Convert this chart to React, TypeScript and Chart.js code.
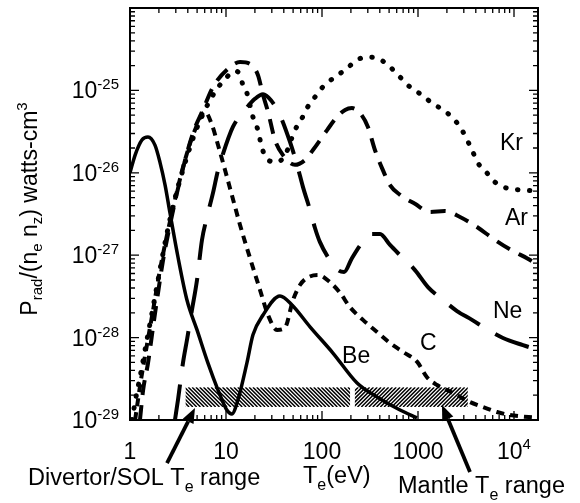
import React, { useEffect, useRef } from "react";
import { Chart, registerables } from "chart.js";
Chart.register(...registerables);

// ---- axis ranges ----
const teMin = 1;
const teMax = 17783;
const pMin = 1e-29;
const pMax = 1e-24;

// ---- tick labels ----
const xTickValues = [1, 10, 100, 1000, 10000];
const xTickMain = ["1", "10", "100", "1000", "10"];
const xTickSup = ["", "", "", "", "4"];
const yTickValues = [1e-29, 1e-28, 1e-27, 1e-26, 1e-25];
const yTickSup = ["-29", "-28", "-27", "-26", "-25"];

// ---- series (Te in eV, P in W cm^3) ----
const beTe = [1.0, 1.13, 1.33, 1.54, 1.82, 2.05, 2.32, 2.61, 3.16, 3.92, 4.99, 6.49, 8.26, 10.2, 11.5, 13.3, 16.5, 19.1, 24.3, 36.5, 48.7, 75, 130, 232, 374, 650, 977];
const beP = [1.0e-26, 1.64e-26, 2.5e-26, 2.72e-26, 2.17e-26, 1.35e-26, 7.1e-27, 3.25e-27, 9.5e-28, 2.86e-28, 1.24e-28, 4.9e-29, 2.31e-29, 1.32e-29, 1.18e-29, 1.75e-29, 4.9e-29, 1.08e-28, 1.88e-28, 3.2e-28, 2.49e-28, 1.35e-28, 6.5e-29, 2.81e-29, 1.9e-29, 1.32e-29, 1.06e-29];

const cTe = [1.13, 1.30, 1.50, 1.74, 2.05, 2.43, 2.94, 3.74, 4.75, 6.04, 7.15, 8.26, 9.77, 11.5, 14.0, 17.8, 22.6, 27.4, 34, 41, 49.9, 59, 69.8, 90.8, 121, 154, 195, 267, 374, 511, 698, 977, 1240, 1578, 2005, 2547, 3480, 4753, 6650, 9080, 17800];
const cP = [1.0e-29, 3.05e-29, 8.1e-29, 2.16e-28, 6.6e-28, 1.76e-27, 4.7e-27, 1.43e-26, 3.3e-26, 5.5e-26, 3.8e-26, 2.17e-26, 1.08e-26, 5.4e-27, 2.33e-27, 9.2e-28, 3.8e-28, 1.88e-28, 1.24e-28, 1.31e-28, 2.86e-28, 4.35e-28, 5.3e-28, 5.75e-28, 4.7e-28, 3.5e-28, 2.35e-28, 1.64e-28, 1.17e-28, 8.6e-29, 6.7e-29, 5.1e-29, 3.3e-29, 2.66e-29, 2.31e-29, 2.0e-29, 1.65e-29, 1.44e-29, 1.25e-29, 1.15e-29, 1.06e-29];

const neTe = [2.94, 3.16, 3.56, 3.92, 4.42, 4.99, 5.62, 6.34, 7.32, 8.26, 9.08, 11.8, 15.8, 20.0, 24.3, 29.4, 36.5, 46.4, 55, 63.4, 75, 84.5, 95, 121, 147, 170, 205, 261, 332, 402, 511, 650, 930, 1270, 1820, 2547, 3650, 5360, 7680, 12400, 17800];
const neP = [1e-29, 1.75e-29, 4.9e-29, 9.35e-29, 2.16e-28, 5.0e-28, 1.53e-27, 2.91e-27, 5.7e-27, 1.08e-26, 1.56e-26, 3.6e-26, 5.8e-26, 7.9e-26, 9.0e-26, 7.6e-26, 5.0e-26, 2.37e-26, 1.25e-26, 6.7e-27, 3.54e-27, 2.14e-27, 1.45e-27, 8.7e-28, 6.6e-28, 6.25e-28, 9.2e-28, 1.41e-27, 1.81e-27, 1.81e-27, 1.33e-27, 1.0e-27, 6.6e-28, 4.1e-28, 2.86e-28, 2.1e-28, 1.64e-28, 1.24e-28, 9.9e-29, 8.1e-29, 7.1e-29];

const arTe = [1.27, 1.37, 1.54, 1.74, 1.91, 2.21, 2.61, 3.32, 4.53, 5.75, 7.32, 11.0, 14.0, 17.8, 21.5, 24.3, 27.4, 32.4, 39.2, 52.3, 66.5, 80.5, 113, 143, 174, 205, 249, 301, 356, 422, 511, 650, 930, 1333, 1908, 2738, 4120, 6340, 9770, 13650, 17800];
const arP = [1e-29, 2.31e-29, 4.9e-29, 1.35e-28, 2.86e-28, 8.7e-28, 2.33e-27, 8.2e-27, 3.04e-26, 5.8e-26, 1.1e-25, 1.92e-25, 2.21e-25, 2.09e-25, 1.54e-25, 8.8e-26, 5.5e-26, 2.5e-26, 1.64e-26, 1.25e-26, 1.43e-26, 1.89e-26, 3.3e-26, 4.75e-26, 5.8e-26, 6.1e-26, 5.3e-26, 3.6e-26, 1.89e-26, 1.14e-26, 7.1e-27, 5.4e-27, 4.2e-27, 3.34e-27, 3.43e-27, 2.91e-27, 2.2e-27, 1.53e-27, 1.12e-27, 9.2e-28, 7.6e-28];

const krTe = [1.05, 1.155, 1.27, 1.50, 1.74, 2.05, 2.43, 2.94, 3.74, 4.75, 6.04, 7.68, 9.77, 12.4, 14.0, 15.0, 16.5, 19.1, 21.5, 23.7, 27.4, 34, 41.2, 52.3, 61.9, 69.8, 84.5, 102, 137, 174, 232, 294, 374, 487, 619, 826, 1100, 1400, 1820, 2315, 2870, 3650, 4220, 5230, 6340, 8450, 11550, 17800];
const krP = [1e-29, 1.9e-29, 3.3e-29, 9.35e-29, 2.35e-28, 6.6e-28, 1.86e-27, 4.9e-27, 1.31e-26, 3.04e-26, 5.8e-26, 9.6e-26, 1.37e-25, 1.72e-25, 1.54e-25, 1.16e-25, 9.3e-26, 4.75e-26, 3.3e-26, 2.0e-26, 1.43e-26, 1.35e-26, 1.64e-26, 3.3e-26, 4.6e-26, 6.1e-26, 8.3e-26, 1.1e-25, 1.46e-25, 1.77e-25, 2.34e-25, 2.54e-25, 2.47e-25, 2.03e-25, 1.54e-25, 1.1e-25, 8.8e-26, 7.0e-26, 5.8e-26, 4.6e-26, 3.3e-26, 1.89e-26, 1.31e-26, 9.95e-27, 7.7e-27, 6.5e-27, 6.2e-27, 6.0e-27];

// ---- species labels (anchored in data coordinates, left/baseline) ----
const speciesNames = ["Kr", "Ar", "Ne", "C", "Be"];
const speciesTe = [7150, 8060, 6040, 1050, 162];
const speciesP = [1.89e-26, 2.33e-27, 1.73e-28, 7.1e-29, 4.9e-29];

// ---- Te ranges (hatched bars) ----
const rangeTeLow = [3.8, 220];
const rangeTeHigh = [196, 3300];
const rangePLow = [1.44e-29, 1.44e-29];
const rangePHigh = [2.5e-29, 2.5e-29];
const rangeHatch = ["back", "fwd"];

// ---- arrows (tail -> tip), data coordinates ----
const arrowTailTe = [2.43, 3480];
const arrowTailP = [3.0e-30, 2.34e-30];
const arrowTipTe = [4.75, 1778];
const arrowTipP = [1.4e-29, 1.52e-29];

const FONT = '"Liberation Sans", Arial, Helvetica, sans-serif';
type Part = { t: string; s: number; dy: number };

function partsWidth(ctx: CanvasRenderingContext2D, parts: Part[]) {
  let w = 0;
  for (const p of parts) {
    ctx.font = `${p.s}px ${FONT}`;
    w += ctx.measureText(p.t).width;
  }
  return w;
}
function drawParts(ctx: CanvasRenderingContext2D, parts: Part[], x: number, y: number, align: string) {
  const w = partsWidth(ctx, parts);
  let cx = align === "left" ? x : align === "center" ? x - w / 2 : x - w;
  ctx.textAlign = "left";
  ctx.textBaseline = "alphabetic";
  for (const p of parts) {
    ctx.font = `${p.s}px ${FONT}`;
    ctx.fillText(p.t, cx, y + p.dy);
    cx += ctx.measureText(p.t).width;
  }
}

const pts = (xs: number[], ys: number[]) => xs.map((x, i) => ({ x, y: ys[i] }));

const decorPlugin = {
  id: "decor",
  beforeDatasetsDraw(chart: any) {
    const { ctx } = chart;
    const xs = chart.scales.x;
    const ys = chart.scales.y;
    ctx.save();
    for (let i = 0; i < rangeTeLow.length; i++) {
      const x0 = xs.getPixelForValue(rangeTeLow[i]);
      const x1 = xs.getPixelForValue(rangeTeHigh[i]);
      const yb = ys.getPixelForValue(rangePLow[i]);
      const yt = ys.getPixelForValue(rangePHigh[i]);
      const h = yb - yt;
      ctx.save();
      ctx.beginPath();
      ctx.rect(x0, yt, x1 - x0, h);
      ctx.clip();
      ctx.strokeStyle = "#000";
      ctx.lineWidth = 1.5;
      ctx.beginPath();
      for (let s = x0 - h - 8; s < x1 + h + 8; s += 3.8) {
        if (rangeHatch[i] === "back") {
          ctx.moveTo(s, yt);
          ctx.lineTo(s + h, yb);
        } else {
          ctx.moveTo(s, yb);
          ctx.lineTo(s + h, yt);
        }
      }
      ctx.stroke();
      ctx.restore();
    }
    ctx.restore();
  },
  afterDatasetsDraw(chart: any) {
    const { ctx, chartArea } = chart;
    const { left, right, top, bottom } = chartArea;
    const xs = chart.scales.x;
    const ys = chart.scales.y;
    ctx.save();
    ctx.strokeStyle = "#000";
    ctx.fillStyle = "#000";
    // frame
    ctx.lineWidth = 2;
    ctx.strokeRect(left, top, right - left, bottom - top);
    // ticks
    ctx.lineWidth = 1.3;
    ctx.beginPath();
    for (let e = 0; e <= 4; e++) {
      for (let k = 1; k <= 9; k++) {
        const v = k * Math.pow(10, e);
        if (v < teMin || v > teMax) continue;
        const px = xs.getPixelForValue(v);
        const len = k === 1 ? 9 : 5;
        ctx.moveTo(px, bottom);
        ctx.lineTo(px, bottom - len);
        ctx.moveTo(px, top);
        ctx.lineTo(px, top + len);
      }
    }
    for (let e = -29; e <= -24; e++) {
      for (let k = 1; k <= 9; k++) {
        const v = k * Math.pow(10, e);
        if (v < pMin * 0.999 || v > pMax * 1.001) continue;
        const py = ys.getPixelForValue(v);
        const len = k === 1 ? 9 : 5;
        ctx.moveTo(left, py);
        ctx.lineTo(left + len, py);
        ctx.moveTo(right, py);
        ctx.lineTo(right - len, py);
      }
    }
    ctx.stroke();

    // x tick labels
    for (let i = 0; i < xTickValues.length; i++) {
      const px = xs.getPixelForValue(xTickValues[i]);
      const parts: Part[] = [{ t: xTickMain[i], s: 23, dy: 0 }];
      if (xTickSup[i]) parts.push({ t: xTickSup[i], s: 15, dy: -10 });
      drawParts(ctx, parts, px, 459, "center");
    }
    // y tick labels
    for (let i = 0; i < yTickValues.length; i++) {
      const py = ys.getPixelForValue(yTickValues[i]);
      drawParts(ctx, [{ t: "10", s: 23, dy: 0 }, { t: yTickSup[i], s: 15, dy: -9 }], 119, py + 8, "right");
    }
    // species labels
    for (let i = 0; i < speciesNames.length; i++) {
      const px = xs.getPixelForValue(speciesTe[i]);
      const py = ys.getPixelForValue(speciesP[i]);
      drawParts(ctx, [{ t: speciesNames[i], s: 23, dy: 0 }], px, py, "left");
    }
    // y axis title
    ctx.save();
    ctx.translate(37, 209);
    ctx.rotate(-Math.PI / 2);
    drawParts(ctx, [
      { t: "P", s: 23, dy: 0 },
      { t: "rad", s: 15, dy: 5 },
      { t: "/(n", s: 23, dy: 0 },
      { t: "e", s: 15, dy: 5 },
      { t: " n", s: 23, dy: 0 },
      { t: "z", s: 15, dy: 5 },
      { t: ") watts-cm", s: 23, dy: 0 },
      { t: "3", s: 15, dy: -10 },
    ], 0, 0, "center");
    ctx.restore();

    // bottom annotations
    drawParts(ctx, [
      { t: "Divertor/SOL T", s: 23.5, dy: 0 },
      { t: "e", s: 16, dy: 7 },
      { t: " range", s: 23.5, dy: 0 },
    ], 28, 485, "left");
    drawParts(ctx, [
      { t: "T", s: 23.5, dy: 0 },
      { t: "e", s: 16, dy: 7 },
      { t: "(eV)", s: 23.5, dy: 0 },
    ], 303, 483, "left");
    drawParts(ctx, [
      { t: "Mantle T", s: 23.5, dy: 0 },
      { t: "e", s: 16, dy: 7 },
      { t: " range", s: 23.5, dy: 0 },
    ], 398, 493, "left");

    // arrows
    for (let i = 0; i < arrowTailTe.length; i++) {
      const x0 = xs.getPixelForValue(arrowTailTe[i]);
      const y0 = ys.getPixelForValue(arrowTailP[i]);
      const x1 = xs.getPixelForValue(arrowTipTe[i]);
      const y1 = ys.getPixelForValue(arrowTipP[i]);
      const ang = Math.atan2(y1 - y0, x1 - x0);
      const hl = 15, hw = 6;
      const bx = x1 - hl * Math.cos(ang);
      const by = y1 - hl * Math.sin(ang);
      ctx.lineWidth = 3.8;
      ctx.beginPath();
      ctx.moveTo(x0, y0);
      ctx.lineTo(bx, by);
      ctx.stroke();
      ctx.beginPath();
      ctx.moveTo(x1, y1);
      ctx.lineTo(bx + hw * Math.sin(ang), by - hw * Math.cos(ang));
      ctx.lineTo(bx - hw * Math.sin(ang), by + hw * Math.cos(ang));
      ctx.closePath();
      ctx.fill();
    }
    ctx.restore();
  },
};

export default function App() {
  const ref = useRef<HTMLCanvasElement | null>(null);
  useEffect(() => {
    if (!ref.current) return;
    const common = {
      pointRadius: 0,
      showLine: true,
      fill: false,
      borderColor: "#000",
      cubicInterpolationMode: "monotone",
    };
    const chart = new Chart(ref.current, {
      type: "scatter",
      data: {
        datasets: [
          { ...common, label: "Be", data: pts(beTe, beP), borderWidth: 3.5 },
          { ...common, label: "C", data: pts(cTe, cP), borderWidth: 4, borderDash: [8, 6] },
          { ...common, label: "Ne", data: pts(neTe, neP), borderWidth: 4, borderDash: [36, 18] },
          { ...common, label: "Ar", data: pts(arTe, arP), borderWidth: 4, borderDash: [15, 10] },
          { ...common, label: "Kr", data: pts(krTe, krP), borderWidth: 5, borderDash: [0.5, 11.5], borderCapStyle: "round" },
        ] as any,
      },
      options: {
        animation: false,
        responsive: false,
        devicePixelRatio: 1,
        events: [],
        layout: { padding: { left: 130, right: 42, top: 8, bottom: 83 } },
        plugins: { legend: { display: false }, tooltip: { enabled: false } },
        scales: {
          x: { type: "logarithmic", min: teMin, max: teMax, display: false },
          y: { type: "logarithmic", min: pMin, max: pMax, display: false },
        },
      } as any,
      plugins: [decorPlugin],
    });
    return () => chart.destroy();
  }, []);
  return (
    <div style={{ position: "fixed", left: 0, top: 0, width: 580, height: 503, background: "#fff" }}>
      <canvas ref={ref} width={580} height={503} style={{ display: "block" }} />
    </div>
  );
}
